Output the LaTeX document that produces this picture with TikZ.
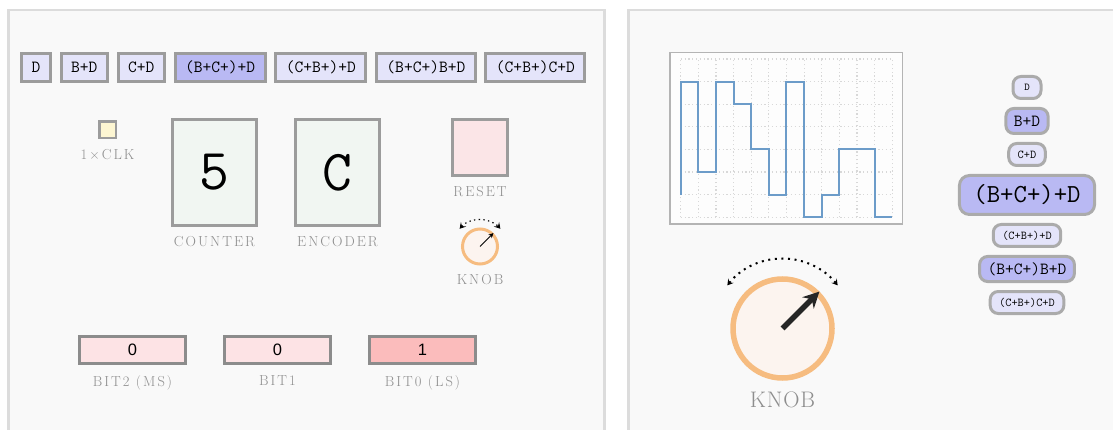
\documentclass[tikz,border=0pt]{standalone}
\usepackage{fontspec}
\usepackage{tikz}
\usetikzlibrary{positioning,arrows.meta,calc}
\newfontfamily\valfont{Liberation Sans}
\newfontfamily\lblfamily{Latin Modern Roman}[LetterSpace=14]
\newfontfamily\knobfamily{Latin Modern Roman}[LetterSpace=4]
\definecolor{panelbg}{HTML}{F9F9F9}
\definecolor{panelrule}{HTML}{DCDCDC}
\definecolor{boxrule}{HTML}{9C9C9C}
\definecolor{bitrule}{HTML}{8C8C8C}
\definecolor{tagfill}{HTML}{E4E4FA}
\definecolor{tagon}{HTML}{B9B9F3}
\definecolor{clkfill}{HTML}{FDF6D2}
\definecolor{dispfill}{HTML}{F1F6F2}
\definecolor{resetfill}{HTML}{FBE5E7}
\definecolor{bitoff}{HTML}{FDE3E5}
\definecolor{biton}{HTML}{FBBCBC}
\definecolor{lblgray}{HTML}{8E8E8E}
\definecolor{knobring}{HTML}{F6BC80}
\definecolor{knobfill}{HTML}{FCF4EF}
\definecolor{scoperule}{HTML}{B4B4B4}
\definecolor{gridgray}{HTML}{D8D8D8}
\definecolor{sigblue}{HTML}{6C9CC9}
\newcommand{\lblfont}{\lblfamily\fontsize{14.5}{16}\selectfont}
\newcommand{\knobfont}{\knobfamily\fontsize{22.5}{24}\selectfont}

\begin{document}
\begin{tikzpicture}[x=1pt,y=1pt,
  panel/.style={fill=panelbg,draw=panelrule,line width=2.5pt},
  tag/.style={draw=boxrule,line width=3pt,fill=tagfill,font=\ttfamily\fontsize{17}{19}\selectfont,inner xsep=10pt,inner ysep=0pt,minimum height=28pt},
  tagsel/.style={tag,fill=tagon},
  pill/.style={draw=boxrule!85,line width=3pt,fill=tagfill,rounded corners=8pt,font=\ttfamily\fontsize{12}{14}\selectfont,inner xsep=9pt,inner ysep=0pt,minimum height=22pt},
  pillmid/.style={pill,fill=tagon,font=\ttfamily\fontsize{17}{19}\selectfont,inner xsep=8pt,minimum height=25pt},
  pillbig/.style={pill,fill=tagon,font=\ttfamily\fontsize{26}{28}\selectfont,inner xsep=14pt,minimum height=39pt,rounded corners=10pt},
  disp/.style={draw=boxrule,line width=3pt,fill=dispfill,minimum width=84pt,minimum height=106pt,font=\ttfamily\fontsize{58}{60}\selectfont},
  bit/.style={draw=bitrule,line width=3pt,fill=bitoff,minimum width=106pt,minimum height=27pt,inner sep=0pt,font=\valfont\fontsize{16.5}{18}\selectfont},
  lbl/.style={text=lblgray,font=\lblfont,inner sep=0pt},
  knob/.style={circle,draw=knobring,fill=knobfill,inner sep=0pt},
  gridline/.style={gridgray,line width=1.2pt,dash pattern=on 1.2pt off 2.6pt},
  sigline/.style={sigblue,line width=2pt},
  swing/.style={line width=#1,{Stealth[length=6pt,width=7pt,inset=2.5pt]}-{Stealth[length=6pt,width=7pt,inset=2.5pt]}}]
  \useasboundingbox (0,0) rectangle (1113,-430);
  \fill[white] (0,0) rectangle (1113,-430);
  \draw[panel] (8.5,-10) rectangle (604.5,-445);
  \draw[panel] (628.5,-10) rectangle (1130,-445);

  \node[tag] (tD) at (36,-67.5) {D};
  \node[tag,right=7.7pt of tD] (tBD) {B+D};
  \node[tag,right=7.7pt of tBD] (tCD) {C+D};
  \node[tagsel,right=7.7pt of tCD] (tBCD) {(B+C+)+D};
  \node[tag,right=7.7pt of tBCD] (tCBD) {(C+B+)+D};
  \node[tag,right=7.7pt of tCBD] (tBCBD) {(B+C+)B+D};
  \node[tag,right=7.7pt of tBCBD] (tCBCD) {(C+B+)C+D};

  \node[draw=boxrule,line width=2.5pt,fill=clkfill,minimum size=16.5pt] (clk) at (107.5,-130) {};
  \node[lbl,below=10pt of clk] (clklbl) {1×CLK};
  \node[disp] (counter) at (214.5,-172.5) {5};
  \node[lbl,below=9pt of counter] (counterlbl) {COUNTER};
  \node[disp,right=36pt of counter] (encoder) {C};
  \node[lbl,below=9pt of encoder] (encoderlbl) {ENCODER};
  \node[draw=boxrule,line width=3pt,fill=resetfill,minimum width=55pt,minimum height=56pt] (reset) at (480,-147.5) {};
  \node[lbl,below=9pt of reset] (resetlbl) {RESET};

  \node[knob,line width=3pt,minimum size=35pt] (knobS) at (480,-246.5) {};
  \node[lbl,below=9pt of knobS] (knobSlbl) {KNOB};
  \draw[line width=1pt,-{Stealth[length=5pt,width=5pt]}] (knobS.center) -- (knobS.45);
  \coordinate (swingSL) at ($(knobS.center)+(139:27)$);
  \draw[swing=1.2pt,dash pattern=on 1.3pt off 3.4pt] (swingSL) arc (139:41:27);

  \node[bit] (bit2) at (132.5,-350) {0};
  \node[lbl,below=10pt of bit2] (bit2lbl) {BIT2 (MS)};
  \node[bit,right=36pt of bit2] (bit1) {0};
  \node[lbl,below=10pt of bit1] (bit1lbl) {BIT1};
  \node[bit,fill=biton,right=36pt of bit1] (bit0) {1};
  \node[lbl,below=10pt of bit0] (bit0lbl) {BIT0 (LS)};

  \node[draw=scoperule,line width=1.5pt,fill=white!60!panelbg,minimum width=232.5pt,minimum height=171.5pt,inner sep=0pt] (scope) at (786,-138.5) {};
  \begin{scope}[shift={(680.7,-217.3)},x=17.63pt,y=22.62pt]
    \foreach \i in {0,...,12} \draw[gridline] (\i,0) -- (\i,7);
    \foreach \j in {0,...,7} \draw[gridline] (0,\j) -- (12,\j);
    \draw[sigline] (0,1) |- (1,6) |- (2,2) |- (3,6) |- (4,5) |- (5,3) |- (6,1) |- (7,6) |- (8,0) |- (9,1) |- (11,3) |- (12,0);
  \end{scope}

  \node[knob,line width=5.5pt,minimum size=99pt] (knobB) at (782.5,-328.5) {};
  \node[lbl,font=\knobfont,below=11pt of knobB] (knobBlbl) {KNOB};
  \draw[line width=5.5pt,color=black!85,-{Stealth[length=16pt,width=16pt]}] (knobB.center) -- (knobB.45);
  \coordinate (swingBL) at ($(knobB.center)+(142:70)$);
  \draw[swing=2pt,dash pattern=on 2pt off 4.6pt] (swingBL) arc (142:38:70);

  \node[pill,font=\ttfamily\fontsize{10.5}{12}\selectfont,minimum width=28pt] (pD) at (1027,-87.5) {D};
  \node[pillmid,below=7pt of pD] (pBD) {B+D};
  \node[pill,below=7pt of pBD] (pCD) {C+D};
  \node[pillbig,below=7pt of pCD] (pBCD) {(B+C+)+D};
  \node[pill,below=7pt of pBCD] (pCBD) {(C+B+)+D};
  \node[pillmid,below=7pt of pCBD] (pBCBD) {(B+C+)B+D};
  \node[pill,below=7pt of pBCBD] (pCBCD) {(C+B+)C+D};
\end{tikzpicture}
\end{document}
